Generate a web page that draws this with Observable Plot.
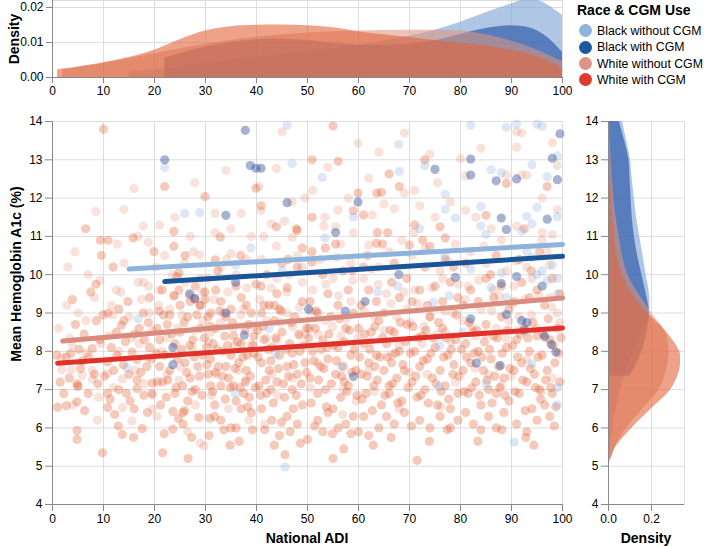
<!DOCTYPE html>
<html><head><meta charset="utf-8">
<script src="https://cdn.jsdelivr.net/npm/d3@7"></script>
<script src="https://cdn.jsdelivr.net/npm/@observablehq/plot@0.6"></script>
<style>
body{margin:0;background:#fff;font-family:"Liberation Sans",Arial,Helvetica,sans-serif;}
#wrap{position:relative;width:708px;height:546px;overflow:hidden;}
.abs{position:absolute;}
.ttl{position:absolute;font-weight:bold;font-size:14px;white-space:nowrap;transform:translate(-50%,-50%);color:#000;}
.rot{transform:translate(-50%,-50%) rotate(-90deg);}
.leg{position:absolute;left:577px;top:0;font-size:12.3px;color:#000;}
.leg .t{font-weight:bold;font-size:14px;position:absolute;left:0;top:2px;white-space:nowrap;}
.leg .i{position:absolute;left:2px;white-space:nowrap;height:14px;line-height:14px;}
.leg .i span.c{display:inline-block;width:13px;height:13px;border-radius:50%;vertical-align:middle;margin-right:5px;position:relative;top:-1px;}
</style></head><body>
<div id="wrap">
  <div id="top" class="abs" style="left:0;top:0"></div>
  <div id="main" class="abs" style="left:0;top:104px"></div>
  <div id="right" class="abs" style="left:575px;top:104px"></div>
  <div class="ttl rot" style="left:14px;top:39px">Density</div>
  <div class="ttl rot" style="left:16px;top:274px">Mean Hemoglobin A1c (%)</div>
  <div class="ttl" style="left:307px;top:538px">National ADI</div>
  <div class="ttl" style="left:646px;top:538px">Density</div>
  <div id="legend" class="leg"></div>
</div>
<script>
// ---------- data ----------
const groups = ["Black without CGM", "Black with CGM", "White without CGM", "White with CGM"];
const legendColors = ["#8fb4de", "#1c5a9e", "#de9486", "#e03a2e"];
const lineColors = ["#8db3dc", "#1a5599", "#d98c7e", "#e0322a"];
const dotColors = ["#8fb0e0", "#2d4a94", "#e4876c", "#e05a2a"];
const dotOpacity = [0.3, 0.42, 0.24, 0.32];
const fillColors = ["#86a9d8", "#2d5aa8", "#dc9682", "#e2643c"];
const fillOpacity = [0.66, 0.68, 0.58, 0.6];

const adiTicks = [0,10,20,30,40,50,60,70,80,90,100];
const a1cTicks = [4,5,6,7,8,9,10,11,12,13,14];
const topDensityTicks = [0, 0.01, 0.02];
const rightDensityTicks = [0, 0.2];

// scatter points [National ADI, mean HbA1c]
const blackNoCgmPts = [[22,12.8],[16.8,8.85],[25.9,11.6],[28.9,11.62],[35.9,10.25],[38.9,10.7],[45,10.1],[46,13.9],[47,12.9],[52.9,12.54],[53.4,10.96],[67.9,13.4],[68,12.7],[73,12.85],[77,12.1],[77,11.7],[79,11.48],[82,13.9],[84,11.78],[84,11.27],[85,11.05],[86,12.74],[88,12.66],[89,13.85],[91,13.93],[92,11.14],[93,11.52],[94,12.87],[94,11.33],[95,13.93],[95,11.76],[96,13.87],[97,12.56],[99,11.52],[99,13.1],[14.6,7.57],[45.6,4.98],[90.5,5.63],[59,11.5],[72,11.2],[76.9,10.5],[82,10.15],[86,9.66],[88,10.05],[95,10.0],[97,9.85],[99,9.9],[98,10.25],[93,10.6],[94,10.45],[96,10.1],[63.8,9.55],[67.7,9.7],[74.7,9.28],[77.8,9.45],[89,9.4],[99,9.5],[56.7,7.6],[75.8,7.08],[85,7.15],[94,7.67],[99,7.05],[99,6.6],[75.9,8.15],[80.5,8.5],[35.9,6.9],[42.5,8.6],[43.7,7.93]];
const blackCgmPts = [[22,13.0],[26.9,9.5],[27.9,9.38],[34,11.55],[34,9.0],[35.9,9.8],[37.8,13.77],[38.8,12.85],[39.9,12.78],[40.9,12.78],[46,11.88],[55.5,11.1],[59.9,11.9],[75,12.75],[82,13.02],[82,12.6],[87,12.45],[88,11.48],[89,11.18],[91,12.5],[97,11.45],[98,13.04],[99,12.48],[99.5,13.68],[23.6,8.1],[37.6,8.42],[59,7.34],[83.1,7.69],[87.8,7.63],[97.8,8.18],[98.7,7.98],[96.5,8.39],[92.5,8.55],[67.9,10.0],[79,9.93],[88,9.77],[91,9.95],[96,9.7],[61.3,9.3],[57.4,9.05],[50.2,9.1],[82,8.85],[89,8.96],[92,8.8],[93,8.75],[23.6,7.65]];
const whiteNoCgmPts = [[1.8,7.85],[1.8,7.52],[3.7,7.52],[3.9,8.18],[5.8,7.37],[7.8,7.27],[7.8,7.5],[8.8,6.2],[10.8,7.42],[8.5,11.65],[2.8,9.2],[5,9.0],[6.5,8.8],[8.2,9.4],[9.5,8.2],[3,10.2],[7,10.0],[4,6.6],[9,6.8],
[16,12.25],[11.6,9.2],[16.8,11.0],[17.8,11.27],[16.8,9.8],[17.8,9.8],[18.8,9.7],[18.8,10.85],[13.7,7.28],[13.7,6.53],[15.6,6.18],[18.6,7.84],[19.6,6.85],[19.6,6.5],[12.5,9.6],[14,10.3],[11,8.4],[13,8.0],[15,8.9],[17,8.2],[19,9.0],[14,11.7],[16.2,7.5],
[20.9,9.6],[25.9,10.3],[27.9,12.4],[28.9,10.52],[22,10.5],[24,11.5],[27,11.0],[21.5,8.0],[23,9.1],[24.5,8.6],[26,9.8],[27.5,8.1],[29,9.9],[22.5,7.4],[25,7.6],[28,6.6],[20.5,6.3],[26.5,5.9],[29,5.6],[23.5,10.0],[21,11.3],[29.5,8.8],
[31.9,11.6],[31.9,11.1],[34,12.72],[35,11.2],[35,10.55],[29.7,5.53],[30.5,9.9],[33,10.2],[36,10.0],[38,10.4],[31,8.5],[33.5,9.0],[35.5,8.6],[37.5,9.1],[39,8.2],[32,7.4],[36.5,7.5],[38.5,6.2],[34.5,6.5],[41.6,6.1],[37,11.6],[39,11.0],
[40.9,11.67],[43.9,12.77],[45,13.73],[47,11.9],[42.9,11.33],[43.9,10.75],[47,10.98],[48,10.5],[41,10.4],[44,9.9],[46.5,10.0],[42,8.8],[44,8.3],[46,9.0],[48.5,8.4],[43,7.4],[47,7.3],[49,9.8],[40.5,12.3],[45.5,11.4],[49.5,12.0],
[59.9,13.43],[62,12.52],[58,12.0],[56,11.68],[55.5,11.25],[53.4,11.5],[53.2,11.27],[59,11.1],[56.5,10.8],[52.5,10.4],[55,9.9],[58.5,10.3],[51,9.6],[53.5,8.8],[56.5,8.4],[58.5,9.3],[52,7.7],[57,7.0],[59.5,6.7],[54,12.8],[51,12.2],
[62.7,11.56],[65,11.85],[67,11.72],[69,12.13],[62,10.77],[64,10.2],[66,10.6],[68.5,10.9],[61,9.9],[63,8.9],[65.5,9.5],[67.5,8.9],[69.5,9.1],[62,7.5],[66.5,7.9],[68,6.5],[64,13.2],[69,13.7],
[71,12.2],[74,13.15],[80,13.03],[72,11.8],[75,11.5],[78,11.9],[70.5,10.5],[73,10.7],[76,10.1],[79,10.8],[71,9.6],[74,8.9],[76.5,9.9],[78.5,9.0],[72.5,8.2],[77,8.5],[79,7.2],[73.5,7.4],[75.5,12.4],
[81,12.58],[83,11.5],[81,11.68],[86,11.2],[89,12.6],[82,10.6],[85,10.3],[88,10.9],[81.5,9.7],[84,9.1],[86.5,9.6],[89,10.1],[80.5,8.8],[83,8.4],[87,8.6],[89.5,8.8],[85.5,7.4],[88,7.1],[84,13.3],
[91,13.73],[92,13.7],[91,13.33],[92,12.6],[93,12.6],[98,13.45],[99,12.85],[91,11.27],[98,11.05],[96,11.1],[96,10.9],[93,10.2],[97,10.6],[99,11.7],[90.5,9.7],[94,9.9],[97.5,9.4],[91.5,8.9],[95,8.6],[99,9.0],[93,7.8],[98,7.3],[96,12.0],
[1.2,8.6],[3.4,8.35],[6.6,7.95],[9.3,9.85],[11.8,8.95],[13.4,9.55],[15.6,8.35],[17.4,9.35],[19.6,8.55],[20.8,9.2],[22.4,8.35],[23.9,9.45],[25.4,8.95],[26.8,9.45],[27.9,8.55],[29.4,9.55],[30.6,8.25],[31.6,9.35],[32.9,8.75],[34.4,9.55],[35.6,8.15],[36.9,8.95],[38.1,9.65],[39.6,8.65],[40.6,9.35],[41.9,8.35],[42.9,9.65],[44.6,8.75],[45.9,9.55],[47.1,8.65],[48.4,9.15],[49.6,8.45],[50.8,9.05],[52.1,8.45],[53.6,9.75],[54.9,8.65],[56.1,9.45],[57.6,8.85],[58.9,9.85],[59.9,8.35],[61.1,9.05],[62.4,8.25],[63.9,9.75],[65.1,8.55],[66.4,9.25],[67.9,8.15],[68.9,9.55],[70.1,8.75],[71.6,9.25],[72.9,8.65],[74.4,9.65],[75.6,8.45],[76.9,9.05],[78.1,8.25],[79.6,9.75],[80.9,9.35],[82.1,8.65],[83.6,9.85],[84.9,8.45],[86.1,9.05],[87.6,9.45],[88.9,8.35],[90.1,9.25],[91.4,8.55],[92.6,9.35],[93.9,8.95],[95.4,9.45],[96.6,8.35],[97.9,9.15],[99.4,8.75],
[5.1,7.1],[11.9,7.05],[18.1,7.15],[24.8,7.25],[31.2,6.85],[37.9,7.25],[44.1,6.85],[50.6,7.05],[56.9,6.35],[63.1,6.95],[69.9,7.45],[76.1,6.55],[82.9,7.55],[89.9,7.35],[95.9,6.95],
[4.4,10.6],[12.7,10.8],[20.2,10.2],[27.6,10.6],[34.1,10.4],[41.4,11.0],[48.9,10.2],[55.8,10.45],[62.6,10.15],[70.9,11.1],[77.6,10.35],[84.6,10.75],[90.9,10.35],[97.4,10.25]];
const whiteCgmPts = [[1,6.54],[2.7,6.58],[2.7,7.85],[4.8,5.93],[4.8,5.7],[4.8,7.15],[4.9,7.08],[4.8,6.68],[5.8,7.75],[7.8,8.07],[9.8,5.35],[10.8,6.9],[10.8,6.53],[10.8,7.72],[10,13.8],[6.5,11.2],[9.6,10.5],[7.5,9.55],[8.5,9.75],[8.6,8.8],[10.9,10.9],[9.4,10.9],[4.5,8.7],[6.2,8.45],[3.3,7.3],[8.2,7.4],[7,6.9],
[11.9,10.2],[10.9,9.0],[13.7,5.83],[15.6,7.97],[16.6,7.78],[16.6,7.25],[16.6,7.03],[17.6,5.98],[18.6,6.4],[19.6,7.17],[15.8,10.96],[19.9,10.6],[12.5,8.5],[13.5,8.68],[14,8.8],[12,7.5],[13,7.0],[14.5,6.9],[15,7.4],[18,8.3],[17,8.6],[19,8.1],[18.5,7.6],[12.2,6.35],[16,6.5],[19.5,6.9],[14.8,9.3],[17.8,9.0],[19,9.4],[11.5,8.1],[13,9.1],
[20.6,7.2],[21.6,7.2],[21.6,5.35],[20.9,9.05],[22,12.3],[23.8,11.13],[23.8,10.74],[23.8,9.45],[24.8,9.6],[24.8,10.05],[29.9,12.04],[23.6,6.43],[23.6,5.97],[26.6,5.2],[28.7,6.27],[25.6,6.4],[25.6,6.1],[20.5,8.6],[21,8.3],[22,7.9],[22.5,8.7],[23,7.5],[24,8.2],[24.5,7.8],[25,8.5],[25.5,7.1],[26,7.7],[26.5,8.9],[27,7.3],[27.5,8.3],[28,7.0],[28.5,7.6],[29,8.6],[29.5,7.9],[22.3,6.8],[24,6.9],[26.5,6.7],[27,9.3],[28,9.7],[29,9.2],[21.5,9.6],[26,10.5],[25,9.2],[29.9,9.55],[29.9,9.35],[28.9,9.2],[27.9,9.36],[23,8.95],[21,7.6],
[30.7,5.8],[31.8,6.6],[31.8,6.3],[30.5,7.4],[31,7.8],[31.5,8.2],[32,8.6],[32.5,7.6],[33,7.1],[33.5,8.0],[34,8.9],[34.5,7.3],[35,7.9],[35.5,8.4],[36,6.7],[36.5,7.7],[37,8.2],[37.5,6.9],[38,7.5],[38.5,8.7],[39,6.4],[39.5,7.95],[33,6.2],[35,6.0],[34.8,5.55],[36,6.0],[37,6.5],[38.6,6.8],[32.9,10.98],[31.9,10.39],[36.9,10.5],[33,9.3],[35,9.1],[31,9.0],[37,9.4],[39,9.0],[30.5,8.9],[32,9.6],[36,9.7],[38,9.2],[39.9,9.75],[39.9,12.26],[40.9,11.8],[31,7.1],[34,7.6],[37.8,7.2],[39.5,8.4],[30.2,8.1],[33.8,8.4],[35.5,7.1],[38.2,7.9],
[40.5,7.1],[41,7.7],[41.5,8.3],[42,6.9],[42.5,7.5],[43,8.1],[43.5,8.8],[44,7.2],[44.5,7.9],[45,8.5],[45.5,6.8],[46,7.6],[46.5,8.2],[47,7.0],[47.5,8.9],[48,7.4],[48.5,8.0],[49,6.6],[49.5,7.7],[43.5,5.55],[44.5,5.8],[45.6,5.3],[46.6,5.9],[46,6.3],[48,6.1],[47.2,6.5],[41,6.5],[43,6.2],[40.9,9.7],[41.5,9.2],[42.5,9.2],[43.5,9.2],[44.5,9.1],[46,9.66],[48,10.2],[48,11.15],[43.9,11.25],[47.8,11.2],[41,9.0],[44,9.5],[49,9.3],[45,10.3],[42,10.0],[40.2,8.55],[49.8,8.6],[47,7.95],[42.8,7.0],
[50.9,13.0],[55,13.88],[56,12.96],[50.9,11.5],[50.9,10.6],[50.9,10.33],[49,10.7],[59.9,12.13],[59,11.67],[61,11.56],[50.5,7.3],[51,8.0],[51.5,8.6],[52,6.9],[52.5,7.6],[53,8.3],[53.5,7.0],[54,7.8],[54.5,8.9],[55,6.5],[55.5,7.4],[56,8.1],[56.5,6.8],[57,7.6],[57.5,8.6],[58,7.1],[58.5,7.9],[59,6.3],[59.5,7.5],[52,6.2],[53,5.9],[54,6.4],[56,6.0],[57.5,6.1],[58.5,5.85],[50,5.7],[55,5.2],[50.5,9.3],[52,9.0],[54,9.5],[56,9.2],[58,9.6],[59,9.0],[53,10.0],[57,10.1],[55.5,10.8],[50.3,8.6],[53.8,8.1],[57.2,7.2],
[63.6,12.13],[64.5,12.15],[66,12.63],[68,12.3],[63.7,11.1],[65.7,11.1],[63.5,10.82],[64.7,10.8],[60.5,7.4],[61,8.2],[61.5,6.9],[62,7.7],[62.5,8.5],[63,7.1],[63.5,7.9],[64,8.8],[64.5,6.6],[65,7.5],[65.5,8.2],[66,6.9],[66.5,7.7],[67,8.5],[67.5,7.3],[68,8.0],[68.5,6.7],[69,7.5],[69.5,8.7],[61,6.3],[62,5.8],[64,6.0],[65.5,6.3],[67,6.1],[69,6.4],[60,5.9],[60.5,9.2],[62,9.6],[63.5,9.3],[65,9.0],[66.5,9.8],[68,9.4],[69.5,9.9],[61,10.2],[67,10.3],[60,8.6],[66,7.1],[63.2,7.6],
[71,11.3],[70,10.77],[73,13.0],[76,11.25],[77,10.96],[74,10.74],[71.5,5.15],[70.5,7.2],[71,8.0],[71.5,6.8],[72,7.6],[72.5,8.4],[73,7.0],[73.5,7.8],[74,8.9],[74.5,7.3],[75,8.1],[75.5,6.6],[76,7.5],[76.5,8.6],[77,7.1],[77.5,7.9],[78,6.5],[78.5,7.4],[79,8.3],[79.5,6.9],[72,6.2],[74,6.0],[76,6.3],[78,6.0],[79.5,6.2],[70.5,9.3],[72,9.6],[73.5,9.2],[75,9.7],[76.5,9.3],[78,9.8],[79.5,9.4],[73,10.2],[77,10.4],
[85,11.55],[89,12.38],[80.5,7.5],[81,8.2],[81.5,6.9],[82,7.7],[82.5,8.5],[83,7.2],[83.5,8.0],[84,6.6],[84.5,7.5],[85,8.7],[85.5,7.0],[86,7.8],[86.5,8.4],[87,6.9],[87.5,7.6],[88,8.9],[88.5,7.3],[89,8.1],[89.5,6.7],[81,6.4],[82.5,6.1],[84,5.95],[85.5,6.3],[87,6.0],[88.5,6.4],[80.5,9.2],[82,9.6],[83.5,9.3],[85,9.9],[86.5,9.4],[88,9.7],[89.5,9.1],[81,10.3],[87,10.5],
[92.5,11.2],[90.5,7.5],[91,8.3],[91.5,6.9],[92,7.7],[92.5,8.6],[93,7.2],[93.5,8.0],[94,6.5],[94.5,7.4],[95,8.4],[95.5,7.0],[96,7.9],[96.5,6.6],[97,7.5],[97.5,8.3],[98,6.9],[98.5,7.7],[99,8.6],[99.5,7.2],[91,6.1],[93,5.9],[95,6.2],[92.8,5.75],[97.5,6.3],[90.5,9.3],[92,9.8],[93.5,9.4],[95,9.6],[96.5,9.2],[98,9.9],[99.5,9.5],[91.5,10.4],[95.5,10.6],[97,12.3],
[0.8,7.9],[1.5,7.2],[2.2,6.9],[3.6,7.95],[5.2,8.05],[5.5,7.55],[6.3,6.45],[7.1,7.85],[8.9,7.15],[9.3,8.3],[10.2,7.35],[11.3,6.75],[12.6,7.9],[13.9,7.65],[14.3,8.25],[15.2,6.7],[16.1,8.45],[17.3,7.45],[17.9,6.85],[18.8,8.75],[19.4,7.8],[12.9,6.05],[15.9,5.75],[9.9,8.95],[3.9,9.35],
[20.3,7.95],[21.2,6.6],[21.8,8.95],[22.6,7.25],[23.4,8.45],[24.2,7.05],[24.7,6.25],[25.3,8.05],[25.8,8.75],[26.3,7.45],[26.9,8.15],[27.4,6.95],[27.8,7.85],[28.3,8.95],[28.8,7.35],[29.3,6.85],[29.8,8.35],[30.3,7.65],[30.9,8.65],[31.4,6.95],[31.9,7.45],[32.3,8.05],[32.8,9.05],[33.3,7.35],[33.9,6.75],[34.3,8.15],[34.9,7.05],[35.3,8.75],[35.8,7.55],[36.3,8.25],[36.8,7.05],[37.3,7.85],[37.8,8.55],[38.3,6.55],[38.8,7.35],[39.3,8.15],[39.8,7.05],[21.9,5.85],[27.3,5.75],[33.6,5.95],[36.6,5.65],[25.9,6.45],[30.8,6.25],[39.2,5.95],[32.4,10.1],[24.4,9.95],
[40.3,7.85],[40.8,6.85],[41.3,8.65],[41.8,7.25],[42.3,8.05],[42.8,7.75],[43.3,6.65],[43.8,8.35],[44.3,7.55],[44.8,9.05],[45.3,7.15],[45.8,8.05],[46.3,7.35],[46.8,8.75],[47.3,7.65],[47.8,6.85],[48.3,8.45],[48.8,7.15],[49.3,8.15],[49.8,7.45],[50.2,8.35],[50.7,6.65],[51.2,7.75],[51.7,9.05],[52.2,7.25],[52.7,8.05],[53.2,7.55],[53.7,6.55],[54.2,8.45],[54.7,7.15],[55.2,8.15],[55.7,7.75],[56.2,8.85],[56.7,7.35],[57.2,8.25],[57.7,6.95],[58.2,8.55],[58.7,7.45],[59.2,8.05],[59.7,6.85],[41.6,5.95],[44.9,6.15],[48.6,5.6],[51.4,6.05],[54.9,5.85],[57.1,5.45],[46.2,10.4],[53.5,10.7],[58.8,10.1],
[60.2,7.85],[60.7,6.75],[61.2,8.45],[61.7,7.35],[62.2,8.05],[62.7,6.45],[63.2,8.65],[63.7,7.25],[64.2,7.85],[64.7,8.35],[65.2,6.85],[65.7,7.85],[66.2,8.55],[66.7,7.15],[67.2,7.95],[67.7,6.65],[68.2,8.75],[68.7,7.65],[69.2,8.25],[69.7,7.05],[70.2,7.95],[70.7,8.65],[71.2,7.35],[71.7,8.35],[72.2,6.85],[72.7,7.75],[73.2,8.55],[73.7,6.65],[74.2,7.95],[74.7,8.35],[75.2,7.15],[75.7,8.75],[76.2,6.95],[76.7,7.85],[77.2,8.35],[77.7,6.75],[78.2,8.05],[78.7,7.65],[79.2,8.95],[79.7,7.35],[62.9,5.55],[66.4,5.75],[70.4,6.05],[73.9,5.65],[77.4,5.95],[61.8,10.5],[72.6,10.9],[78.6,10.2],
[80.2,8.05],[80.7,6.95],[81.2,7.85],[81.7,8.75],[82.2,7.05],[82.7,7.95],[83.2,8.55],[83.7,6.85],[84.2,7.85],[84.7,8.25],[85.2,7.25],[85.7,8.05],[86.2,6.65],[86.7,7.35],[87.2,8.35],[87.7,7.05],[88.2,7.95],[88.7,6.85],[89.2,8.55],[89.7,7.55],[90.2,8.15],[90.7,6.95],[91.2,7.85],[91.7,8.45],[92.2,7.25],[92.7,6.45],[93.2,8.35],[93.7,7.55],[94.2,8.75],[94.7,7.05],[95.2,7.85],[95.7,6.75],[96.2,8.45],[96.7,7.25],[97.2,8.85],[97.7,7.05],[98.2,8.15],[98.7,6.55],[99.2,7.95],[99.7,8.35],[83.4,5.65],[88.1,5.95],[94.4,5.55],[98.4,6.05],[85.9,10.0],[93.9,10.1]];

// regression line endpoints [ADI, HbA1c]
const blackNoCgmFit = [[15,10.15],[100,10.79]];
const blackCgmFit = [[22,9.82],[100,10.48]];
const whiteNoCgmFit = [[2,8.27],[100,9.39]];
const whiteCgmFit = [[1,7.69],[100,8.61]];

// top marginal density [ADI, density]
const blackNoCgmAdiDensity = [[15,0.0015],[20,0.0022],[25,0.003],[30,0.004],[40,0.0058],[50,0.0075],[60,0.0092],[65,0.0105],[70,0.0118],[75,0.0135],[80,0.0158],[85,0.0185],[90,0.021],[93,0.0224],[96,0.0216],[100,0.0178]];
const blackCgmAdiDensity = [[22,0.0055],[26,0.0072],[30,0.0087],[35,0.0100],[40,0.0108],[45,0.011],[50,0.0105],[55,0.0098],[60,0.0093],[65,0.0092],[70,0.0096],[75,0.0105],[80,0.0123],[85,0.014],[90,0.0148],[94,0.014],[97,0.0115],[100,0.0072]];
const whiteNoCgmAdiDensity = [[2,0.0022],[10,0.004],[20,0.0068],[30,0.0095],[40,0.0115],[50,0.0127],[60,0.0133],[70,0.0135],[80,0.0133],[84,0.0125],[88,0.0112],[92,0.0095],[96,0.0072],[100,0.0045]];
const whiteCgmAdiDensity = [[1,0.0022],[5,0.003],[10,0.0042],[15,0.0057],[20,0.0078],[25,0.0108],[30,0.0133],[35,0.0145],[40,0.0149],[45,0.015],[50,0.0148],[55,0.0142],[60,0.0131],[65,0.0122],[70,0.0114],[75,0.0106],[80,0.0098],[85,0.009],[90,0.0078],[95,0.006],[100,0.0027]];

// right marginal density [HbA1c, density]
const blackNoCgmA1cDensity = [[4.98,0.004],[5.5,0.01],[6,0.02],[6.5,0.035],[7,0.055],[7.5,0.085],[8,0.12],[8.5,0.16],[9,0.19],[9.5,0.19],[10,0.175],[10.5,0.16],[11,0.145],[11.5,0.13],[12,0.12],[12.5,0.11],[13,0.102],[13.5,0.085],[14,0.065]];
const blackCgmA1cDensity = [[7.35,0.10],[7.6,0.125],[8,0.155],[8.5,0.18],[9,0.19],[9.5,0.175],[10,0.155],[10.5,0.135],[11,0.12],[11.5,0.11],[12,0.105],[12.5,0.10],[13,0.095],[13.5,0.075],[14,0.05]];
const whiteNoCgmA1cDensity = [[5.2,0.015],[5.5,0.03],[6,0.085],[6.5,0.16],[7,0.235],[7.5,0.27],[8,0.28],[8.5,0.265],[9,0.2],[9.5,0.14],[10,0.09],[10.5,0.065],[11,0.05],[11.5,0.035],[12,0.025],[12.5,0.018],[13,0.012],[13.5,0.008],[14,0.005]];
const whiteCgmA1cDensity = [[5.1,0.005],[5.5,0.035],[6,0.11],[6.5,0.2],[7,0.29],[7.5,0.33],[7.8,0.335],[8,0.33],[8.5,0.27],[9,0.18],[9.5,0.11],[10,0.065],[10.5,0.04],[11,0.028],[11.5,0.02],[12,0.015],[12.5,0.01],[13,0.006],[13.8,0.002]];

// ---------- build ----------
const pts = [blackNoCgmPts, blackCgmPts, whiteNoCgmPts, whiteCgmPts];
const fits = [blackNoCgmFit, blackCgmFit, whiteNoCgmFit, whiteCgmFit];
const adiDens = [blackNoCgmAdiDensity, blackCgmAdiDensity, whiteNoCgmAdiDensity, whiteCgmAdiDensity];
const a1cDens = [blackNoCgmA1cDensity, blackCgmA1cDensity, whiteNoCgmA1cDensity, whiteCgmA1cDensity];
const rows = (arr) => arr.map(([a, b]) => ({a, b}));
const font = {fontFamily: "'Liberation Sans', Arial, Helvetica, sans-serif", fontSize: "12px", background: "transparent", overflow: "visible", color: "#000"};
const grid = "#dddddd", axisC = "#888888";

// top density
const topPlot = Plot.plot({
  width: 575, height: 104,
  marginLeft: 52, marginRight: 13, marginTop: 0, marginBottom: 27,
  x: {domain: [0, 100]}, y: {domain: [0, 0.022]},
  style: font,
  marks: [
    Plot.frame({stroke: grid}),
    Plot.gridX(adiTicks, {stroke: grid, strokeOpacity: 1}),
    Plot.gridY(topDensityTicks, {stroke: grid, strokeOpacity: 1}),
    ...adiDens.map((d, i) => Plot.areaY(rows(d), {x: "a", y: "b", fill: fillColors[i], fillOpacity: fillOpacity[i], curve: "catmull-rom", clip: true})),
    Plot.ruleX([0], {stroke: axisC}),
    Plot.ruleY([0], {stroke: axisC}),
    Plot.axisX(adiTicks, {tickSize: 6, tickPadding: 3, stroke: axisC, label: null}),
    Plot.axisY(topDensityTicks, {tickSize: 6, tickPadding: 3, stroke: axisC, label: null, tickFormat: d3.format(".2f")})
  ]
});
document.getElementById("top").appendChild(topPlot);

// main scatter
const mainPlot = Plot.plot({
  width: 575, height: 442,
  marginLeft: 52, marginRight: 13, marginTop: 17, marginBottom: 42,
  x: {domain: [0, 100]}, y: {domain: [4, 14]},
  style: font,
  marks: [
    Plot.frame({stroke: grid}),
    Plot.gridX(adiTicks, {stroke: grid, strokeOpacity: 1}),
    Plot.gridY(a1cTicks, {stroke: grid, strokeOpacity: 1}),
    ...[2, 3, 0, 1].map(i => Plot.dot(rows(pts[i]), {x: "a", y: "b", r: 4.6, fill: dotColors[i], fillOpacity: dotOpacity[i], stroke: null})),
    ...fits.map((f, i) => Plot.line(rows(f), {x: "a", y: "b", stroke: lineColors[i], strokeWidth: 5})),
    Plot.ruleX([0], {stroke: axisC}),
    Plot.ruleY([4], {stroke: axisC}),
    Plot.axisX(adiTicks, {tickSize: 7, tickPadding: 3, stroke: axisC, label: null}),
    Plot.axisY(a1cTicks, {tickSize: 7, tickPadding: 3, stroke: axisC, label: null})
  ]
});
document.getElementById("main").appendChild(mainPlot);

// right density
const rightPlot = Plot.plot({
  width: 133, height: 442,
  marginLeft: 33, marginRight: 24, marginTop: 17, marginBottom: 42,
  x: {domain: [0, 0.353]}, y: {domain: [4, 14]},
  style: font,
  marks: [
    Plot.frame({stroke: grid}),
    Plot.gridX(rightDensityTicks, {stroke: grid, strokeOpacity: 1}),
    Plot.gridY(a1cTicks, {stroke: grid, strokeOpacity: 1}),
    ...a1cDens.map((d, i) => Plot.areaX(rows(d), {y: "a", x: "b", fill: fillColors[i], fillOpacity: fillOpacity[i], curve: "catmull-rom", clip: true})),
    Plot.ruleX([0], {stroke: axisC}),
    Plot.ruleY([4], {stroke: axisC}),
    Plot.axisX(rightDensityTicks, {tickSize: 7, tickPadding: 3, stroke: axisC, label: null, tickFormat: d3.format(".1f")}),
    Plot.axisY(a1cTicks, {tickSize: 7, tickPadding: 3, stroke: axisC, label: null})
  ]
});
document.getElementById("right").appendChild(rightPlot);

// legend
const leg = document.getElementById("legend");
leg.innerHTML = `<div class="t">Race &amp; CGM Use</div>` + groups.map((g, i) =>
  `<div class="i" style="top:${24 + i * 16.3}px"><span class="c" style="background:${legendColors[i]}"></span>${g}</div>`).join("");
</script>
</body></html>
